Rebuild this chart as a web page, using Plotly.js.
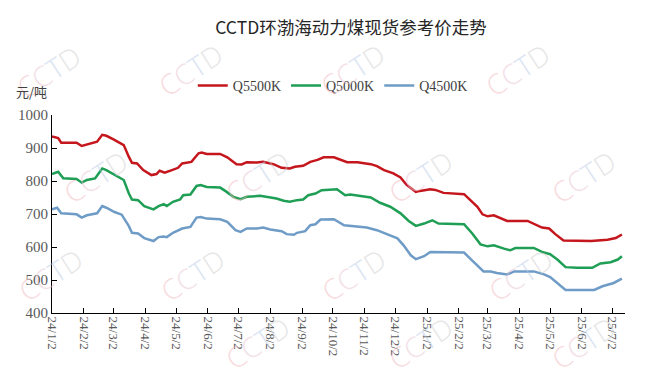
<!DOCTYPE html>
<html>
<head>
<meta charset="utf-8">
<script src="https://cdn.plot.ly/plotly-3.0.1.min.js"></script>
<style>html,body{margin:0;padding:0;background:#fff;}#chart{width:650px;height:376px;}</style>
</head>
<body>
<div id="chart"></div>
<script>
// ---- data ----
const seriesNames = ['Q5500K', 'Q5000K', 'Q4500K'];

const dates5500 = ['2024-01-02','2024-01-08','2024-01-11','2024-01-26','2024-01-31','2024-02-06','2024-02-15','2024-02-20','2024-02-24','2024-03-02','2024-03-08','2024-03-12','2024-03-17','2024-03-20','2024-03-25','2024-03-31','2024-04-08','2024-04-13','2024-04-16','2024-04-21','2024-04-28','2024-05-04','2024-05-08','2024-05-17','2024-05-24','2024-05-27','2024-06-01','2024-06-14','2024-06-21','2024-06-30','2024-07-05','2024-07-10','2024-07-20','2024-07-26','2024-08-05','2024-08-13','2024-08-21','2024-08-26','2024-09-03','2024-09-10','2024-09-17','2024-09-23','2024-10-03','2024-10-09','2024-10-16','2024-10-26','2024-11-08','2024-11-14','2024-11-21','2024-11-30','2024-12-07','2024-12-13','2024-12-22','2024-12-26','2025-01-05','2025-01-10','2025-01-18','2025-02-07','2025-02-13','2025-02-20','2025-02-25','2025-03-02','2025-03-08','2025-03-16','2025-03-21','2025-04-10','2025-04-16','2025-04-24','2025-05-01','2025-05-07','2025-05-15','2025-05-28','2025-06-11','2025-06-27','2025-07-05','2025-07-11'];
const q5500 = [935,930,916,916,906,911,919,940,937,926,916,909,873,855,853,833,818,821,831,825,833,840,853,858,884,886,882,882,872,851,850,857,856,858,851,840,838,843,846,858,864,872,872,866,857,857,851,845,833,823,811,788,767,770,775,773,764,760,742,722,699,693,696,686,679,679,671,659,656,639,620,618,618,622,627,638];

const dates5000 = ['2024-01-02','2024-01-08','2024-01-13','2024-01-26','2024-01-31','2024-02-05','2024-02-13','2024-02-20','2024-02-24','2024-03-03','2024-03-12','2024-03-17','2024-03-20','2024-03-26','2024-04-01','2024-04-10','2024-04-15','2024-04-20','2024-04-23','2024-04-29','2024-05-06','2024-05-09','2024-05-16','2024-05-22','2024-05-26','2024-06-01','2024-06-14','2024-06-19','2024-06-27','2024-07-04','2024-07-10','2024-07-23','2024-07-30','2024-08-08','2024-08-15','2024-08-21','2024-08-28','2024-09-03','2024-09-08','2024-09-15','2024-09-21','2024-10-06','2024-10-14','2024-10-19','2024-11-08','2024-11-17','2024-11-27','2024-12-07','2024-12-15','2024-12-22','2024-12-30','2025-01-07','2025-01-13','2025-02-07','2025-02-15','2025-02-23','2025-03-02','2025-03-08','2025-03-18','2025-03-24','2025-03-29','2025-04-16','2025-04-24','2025-05-02','2025-05-09','2025-05-17','2025-05-28','2025-06-12','2025-06-20','2025-06-30','2025-07-07','2025-07-11'];
const q5000 = [821,828,808,806,795,803,808,838,833,818,803,762,744,742,724,714,724,730,724,737,744,757,759,785,788,782,780,770,752,745,752,755,752,747,740,737,742,744,757,762,772,775,757,759,750,734,722,702,679,664,671,681,671,669,641,608,602,605,595,590,597,597,585,578,562,539,537,537,550,554,562,572];

const dates4500 = ['2024-01-02','2024-01-07','2024-01-11','2024-01-26','2024-01-31','2024-02-05','2024-02-15','2024-02-20','2024-02-24','2024-03-03','2024-03-10','2024-03-17','2024-03-20','2024-03-26','2024-04-01','2024-04-10','2024-04-15','2024-04-20','2024-04-23','2024-04-29','2024-05-08','2024-05-16','2024-05-22','2024-05-26','2024-06-01','2024-06-14','2024-06-21','2024-06-29','2024-07-04','2024-07-10','2024-07-20','2024-07-26','2024-08-02','2024-08-13','2024-08-18','2024-08-25','2024-08-28','2024-09-05','2024-09-10','2024-09-15','2024-09-20','2024-10-03','2024-10-13','2024-10-22','2024-11-04','2024-11-14','2024-11-24','2024-12-04','2024-12-10','2024-12-17','2024-12-22','2024-12-30','2025-01-05','2025-01-12','2025-02-07','2025-02-13','2025-02-20','2025-02-26','2025-03-05','2025-03-11','2025-03-21','2025-03-28','2025-04-16','2025-04-26','2025-05-02','2025-05-11','2025-05-17','2025-06-14','2025-06-22','2025-07-03','2025-07-11'];
const q4500 = [714,719,702,699,689,696,702,724,719,706,698,663,643,641,627,618,630,632,630,643,656,661,689,691,686,684,676,651,646,656,656,659,653,648,639,637,643,648,666,669,683,684,666,664,659,651,638,626,605,575,563,572,585,585,583,565,544,526,526,521,517,526,526,517,509,486,470,470,481,491,504];

const lineColors = ['#c4161c', '#1f9e55', '#6e9cc6'];
const titleText = 'CCTD环渤海动力煤现货参考价走势';
const unitText = '元/吨';
const yTickVals = [400, 500, 600, 700, 800, 900, 1000];

// watermark anchors (pixels from top-left)
const wmX = [48, 190, 352, 517, 95, 257, 420, 583, 50, 192, 353, 520, 257, 420, 583];
const wmY = [72, 70, 70, 70, 177, 177, 177, 177, 275, 275, 275, 275, 343, 343, 343];

// ---- chart ----
const W = 650, H = 376;
const margin = {l: 52, r: 25, t: 115, b: 63};

const traces = [
  {x: dates5500, y: q5500, name: seriesNames[0]},
  {x: dates5000, y: q5000, name: seriesNames[1]},
  {x: dates4500, y: q4500, name: seriesNames[2]}
].map((t, i) => Object.assign(t, {
  type: 'scatter', mode: 'lines',
  line: {color: lineColors[i], width: 2.5},
  hoverinfo: 'skip'
}));

const wmText = '<span style="color:#f2b8c0">C</span><span style="color:#e9c3d2">C</span><span style="color:#b9cbe6">T</span><span style="color:#cfcfcf">D</span>';
const annotations = wmX.map((px, i) => ({
  xref: 'paper', yref: 'paper',
  x: (px - margin.l) / (W - margin.l - margin.r),
  y: (H - margin.b - wmY[i]) / (H - margin.t - margin.b),
  text: wmText, showarrow: false, textangle: -33,
  font: {family: 'Open Sans, sans-serif', size: 28, weight: 300},
  xanchor: 'center', yanchor: 'middle', opacity: 0.5
}));
annotations.push({
  xref: 'paper', yref: 'paper',
  x: (14 - margin.l) / (W - margin.l - margin.r),
  y: (H - margin.b - 91) / (H - margin.t - margin.b),
  xanchor: 'left', yanchor: 'middle',
  text: unitText, showarrow: false,
  font: {family: 'Noto Sans CJK SC', size: 13, color: '#404040'}
});

const layout = {
  width: W, height: H,
  margin: margin,
  paper_bgcolor: '#ffffff', plot_bgcolor: 'rgba(0,0,0,0)',
  title: {
    text: titleText,
    font: {family: 'Noto Sans CJK SC', size: 17.5, color: '#262626'},
    x: 0.54, xanchor: 'center', y: 1 - 28 / H, yanchor: 'middle'
  },
  showlegend: true,
  legend: {
    orientation: 'h', x: 0.49, xanchor: 'center',
    y: 1 + (115 - 86) / (H - margin.t - margin.b), yanchor: 'middle',
    font: {family: 'Liberation Serif', size: 14, color: '#404040'},
    itemwidth: 30, tracegroupgap: 0, bgcolor: 'rgba(0,0,0,0)'
  },
  xaxis: {
    type: 'date',
    range: ['2024-01-02', '2025-07-14'],
    tick0: '2024-01-02', dtick: 'M1',
    tickformat: '%y/%-m/%-d',
    tickangle: 90,
    ticks: 'inside', ticklen: 5, tickcolor: '#000', tickwidth: 1,
    showline: true, linecolor: '#000', linewidth: 1,
    showgrid: false, zeroline: false,
    tickfont: {family: 'Liberation Serif', size: 13, color: '#595959'},
    fixedrange: true
  },
  yaxis: {
    range: [400, 1000],
    tickvals: yTickVals,
    ticks: 'inside', ticklen: 5, tickcolor: '#000', tickwidth: 1,
    showline: true, linecolor: '#000', linewidth: 1,
    showgrid: false, zeroline: false,
    tickfont: {family: 'Liberation Serif', size: 15, color: '#595959'},
    fixedrange: true
  },
  annotations: annotations
};

Plotly.newPlot('chart', traces, layout, {displayModeBar: false, staticPlot: true});
</script>
</body>
</html>
